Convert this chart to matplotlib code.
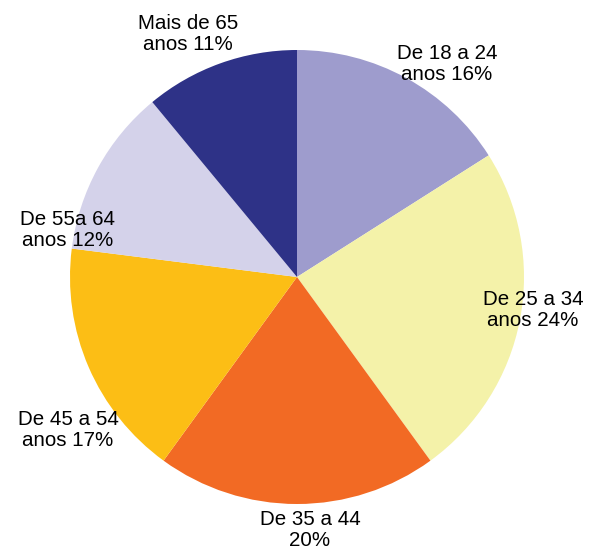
import matplotlib.pyplot as plt

plt.rcParams['font.family'] = ['Liberation Sans', 'DejaVu Sans']

# faixas etarias
labels = ["De 18 a 24\nanos 16%", "De 25 a 34\nanos 24%", "De 35 a 44\n20%",
          "De 45 a 54\nanos 17%", "De 55a 64\nanos 12%", "Mais de 65\nanos 11%"]
values = [16, 24, 20, 17, 12, 11]
colors = ['#9E9CCD', '#F4F2A9', '#F26A24', '#FCBE15', '#D4D2EA', '#2E3287']

# label positions in pixels (x, y from top)
label_pos = [(447, 64), (533, 310), (310, 530), (68, 430), (68, 230), (188, 34)]

fig = plt.figure(figsize=(5.9, 5.47), dpi=100)
ax = fig.add_axes([0, 0, 1, 1])
ax.pie(values, colors=colors, startangle=90, counterclock=False,
       center=(297, 547 - 277), radius=227, frame=True,
       wedgeprops={'linewidth': 0})
for lab, (x, y) in zip(labels, label_pos):
    ax.text(x, 547 - y, lab, ha='center', va='center', fontsize=14.8,
            linespacing=1.08, color='black')
ax.set_xlim(0, 590)
ax.set_ylim(0, 547)
ax.set_aspect('equal')
ax.axis('off')
fig.savefig('out.png', dpi=100)
